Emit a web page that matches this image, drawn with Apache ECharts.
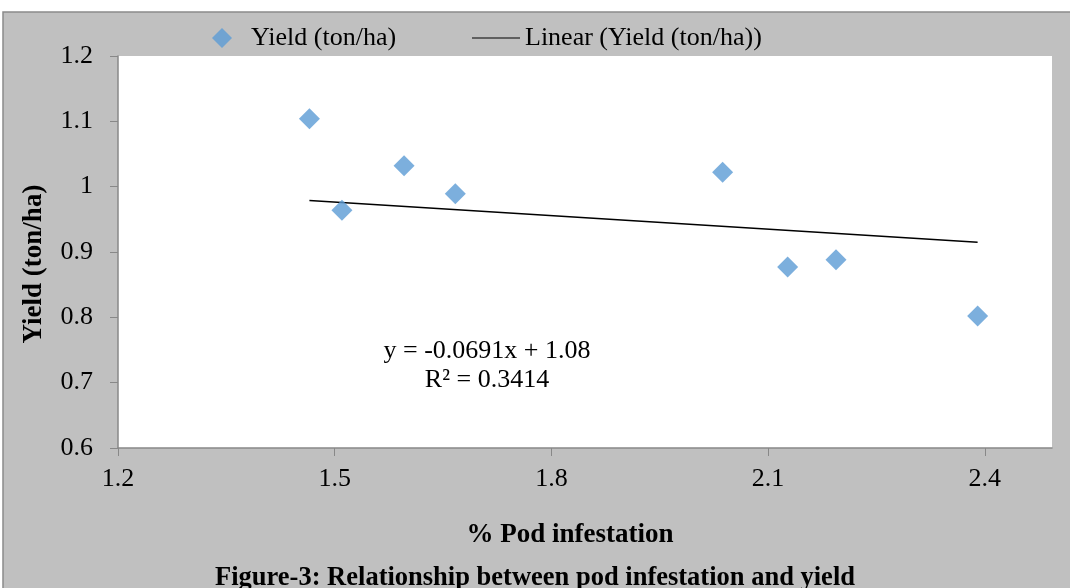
<!DOCTYPE html>
<html>
<head>
<meta charset="utf-8">
<script src="https://cdn.jsdelivr.net/npm/echarts@6/dist/echarts.min.js"></script>
<style>html,body{margin:0;padding:0;background:#fff}#c{width:1070px;height:588px}</style>
</head>
<body>
<div id="c"></div>
<script>
const podInfestation = [1.465, 1.510, 1.596, 1.667, 2.037, 2.127, 2.194, 2.390];
const yieldValues = [1.104, 0.964, 1.032, 0.989, 1.022, 0.877, 0.888, 0.802];
const trendSlope = -0.0691;
const trendIntercept = 1.08;
const equationText = 'y = -0.0691x + 1.08';
const r2Text = 'R² = 0.3414';
const seriesName = 'Yield (ton/ha)';
const trendName = 'Linear (Yield (ton/ha))';
const xAxisTitle = '% Pod infestation';
const yAxisTitle = 'Yield (ton/ha)';
const caption = 'Figure-3: Relationship between pod infestation and yield';

const points = podInfestation.map((x, i) => [x, yieldValues[i]]);
const xMin = Math.min(...podInfestation), xMax = Math.max(...podInfestation);
const trend = [[xMin, trendSlope * xMin + trendIntercept], [xMax, trendSlope * xMax + trendIntercept]];

const font = '"Liberation Serif", "Times New Roman", serif';
const chart = echarts.init(document.getElementById('c'));
chart.setOption({
  animation: false,
  backgroundColor: '#fff',
  textStyle: { fontFamily: font },
  graphic: [
    { type: 'rect', z: -10, shape: { x: 3, y: 12, width: 1070, height: 580 },
      style: { fill: '#c0c0c0', stroke: '#8a8a8a', lineWidth: 1.5 } },
    { type: 'text', x: 487, y: 351, z: 10,
      style: { text: equationText, font: '26px ' + font, fill: '#000', align: 'center', verticalAlign: 'middle' } },
    { type: 'text', x: 487, y: 380, z: 10,
      style: { text: r2Text, font: '26px ' + font, fill: '#000', align: 'center', verticalAlign: 'middle' } },
    { type: 'text', x: 570, y: 535,
      style: { text: xAxisTitle, font: 'bold 27px ' + font, fill: '#000', align: 'center', verticalAlign: 'middle' } },
    { type: 'text', x: 535, y: 578,
      style: { text: caption, font: 'bold 26.5px ' + font, fill: '#000', align: 'center', verticalAlign: 'middle' } },
    { type: 'text', x: 34, y: 264, rotation: Math.PI / 2,
      style: { text: yAxisTitle, font: 'bold 27px ' + font, fill: '#000', align: 'center', verticalAlign: 'middle' } }
  ],
  legend: [
    {
      top: 20, left: 207, itemWidth: 20, itemHeight: 20,
      textStyle: { fontFamily: font, fontSize: 26, color: '#000', padding: [0, 0, 0, 14] },
      data: [{ name: seriesName, icon: 'diamond', itemStyle: { color: '#5B9BD5' } }]
    },
    {
      top: 20, left: 467, itemWidth: 48, itemHeight: 20,
      textStyle: { fontFamily: font, fontSize: 26, color: '#000' },
      data: [{ name: trendName, icon: 'path://M0,10L52,10L52,11.2L0,11.2Z', itemStyle: { color: '#000' } }]
    }
  ],
  grid: { left: 118, right: 18, top: 56, bottom: 140, show: true, backgroundColor: '#fff', borderWidth: 0 },
  xAxis: {
    type: 'value', min: 1.2, max: 2.493, interval: 0.3,
    axisLine: { show: true, lineStyle: { color: '#888', width: 1.5 } },
    axisTick: { show: true, length: 8, lineStyle: { color: '#888' } },
    axisLabel: { showMaxLabel: false, fontSize: 26, color: '#000', fontFamily: font, margin: 18,
      formatter: v => (Math.round(v * 10) / 10).toString() },
    splitLine: { show: false }
  },
  yAxis: {
    type: 'value', min: 0.6, max: 1.2, interval: 0.1,
    axisLine: { show: true, lineStyle: { color: '#888', width: 1.5 } },
    axisTick: { show: true, length: 8, lineStyle: { color: '#888' } },
    axisLabel: { fontSize: 26, color: '#000', fontFamily: font, margin: 25,
      formatter: v => (Math.round(v * 10) / 10).toString() },
    splitLine: { show: false }
  },
  series: [
    { name: seriesName, type: 'scatter', symbol: 'diamond', symbolSize: 21, data: points,
      itemStyle: { color: '#5B9BD5' }, z: 3 },
    { name: trendName, type: 'line', data: trend, symbol: 'none',
      lineStyle: { color: '#000', width: 1.5 }, z: 2 }
  ]
});
</script>
</body>
</html>
